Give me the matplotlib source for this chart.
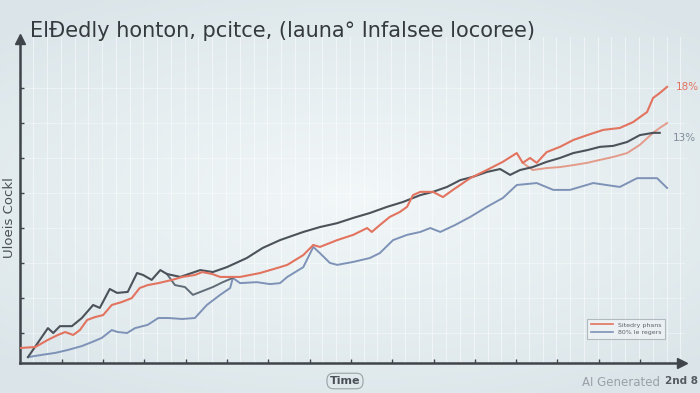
import numpy as np
import matplotlib.pyplot as plt
from matplotlib.lines import Line2D

# data (x: time share of axis, y: value share of axis)
red_x = [0, 2.3, 4.2, 5.7, 6.8, 8.0, 9.0, 10.1, 11.3, 12.5, 13.8, 15.3, 16.8, 18.0, 19.2, 20.8,
         22.9, 24.4, 26.3, 27.4, 28.9, 30.1, 33.1, 36.1, 39.1, 40.2, 42.6, 44.1, 45.1, 47.7, 50.1,
         52.2, 52.9, 54.1, 55.6, 57.1, 58.2, 59.1, 60.2, 62.1, 63.6, 65.1, 67.7, 70.2, 72.6, 74.7,
         75.6, 76.7, 77.7, 79.2, 81.2, 83.2, 85.3, 87.7, 90.2, 92.2, 94.3, 95.2, 96.2, 97.3]
red_y = [4.6, 4.9, 7.1, 8.6, 9.5, 8.6, 10.1, 13.2, 14.1, 14.7, 17.8, 18.7, 19.9, 23.0, 23.9, 24.5,
         25.5, 26.4, 27.0, 27.9, 27.3, 26.4, 26.4, 27.6, 29.4, 30.1, 33.1, 36.2, 35.6, 37.7, 39.3,
         41.4, 40.2, 42.3, 44.8, 46.3, 47.9, 51.5, 52.5, 52.5, 50.9, 53.1, 56.7, 59.2, 61.7, 64.4,
         61.4, 62.9, 61.4, 64.7, 66.3, 68.4, 69.9, 71.5, 72.1, 73.9, 77.0, 81.3, 82.8, 84.7]

salmon_x = [75.6, 77.1, 79.2, 81.2, 83.2, 85.3, 87.2, 89.2, 91.3, 93.2, 95.2, 96.2, 97.3]
salmon_y = [61.4, 59.2, 59.8, 60.1, 60.7, 61.4, 62.3, 63.2, 64.4, 66.9, 70.6, 72.1, 73.6]

dark_x = [1.2, 4.2, 5.0, 6.0, 7.8, 9.3, 11.0, 12.0, 13.5, 14.6, 16.2, 17.6, 18.5, 19.8, 21.1,
          22.1, 24.1, 27.1, 29.0, 31.1, 34.1, 36.5, 39.1, 42.6, 45.1, 47.7, 50.1, 52.6, 55.2,
          57.6, 60.2, 62.1, 64.2, 66.2, 68.1, 70.2, 72.2, 73.7, 75.2, 77.1, 79.2, 81.2, 83.2,
          85.3, 87.2, 89.2, 91.3, 93.2, 95.2, 96.2]
dark_y = [1.8, 10.7, 9.2, 11.3, 11.3, 13.8, 17.8, 16.9, 22.7, 21.5, 21.8, 27.6, 27.0, 25.5, 28.5,
          27.3, 26.4, 28.5, 27.9, 29.4, 32.2, 35.3, 37.7, 40.2, 41.7, 42.9, 44.5, 46.0, 47.9,
          49.4, 51.5, 52.5, 54.0, 56.1, 57.1, 58.6, 59.5, 57.7, 59.2, 60.1, 61.7, 62.9, 64.4,
          65.3, 66.3, 66.6, 67.8, 69.9, 70.6, 70.6]

branch_x = [22.1, 23.3, 24.8, 26.0, 29.0, 30.5, 32.0]
branch_y = [27.3, 23.9, 23.3, 20.9, 23.3, 24.8, 26.1]

blue_x = [1.2, 3.3, 5.3, 7.2, 9.3, 10.8, 12.3, 13.8, 14.7, 16.1, 17.3, 19.2, 20.8, 22.3, 24.4,
          26.3, 28.1, 30.1, 31.6, 32.0, 33.1, 35.6, 37.6, 39.1, 40.2, 42.6, 44.1, 45.1, 46.6,
          47.7, 50.1, 52.6, 54.1, 56.1, 58.2, 60.2, 61.7, 63.2, 65.4, 67.7, 70.2, 72.6, 74.7,
          77.7, 80.2, 82.7, 86.2, 90.2, 92.8, 95.8, 97.3]
blue_y = [1.8, 2.5, 3.1, 4.0, 5.2, 6.4, 7.7, 10.1, 9.5, 9.2, 10.7, 11.7, 13.8, 13.8, 13.5,
          13.8, 17.8, 20.9, 23.0, 26.1, 24.5, 24.8, 24.2, 24.5, 26.4, 29.4, 35.6, 33.7, 30.7,
          30.1, 31.0, 32.2, 33.7, 37.7, 39.3, 40.2, 41.4, 40.2, 42.3, 44.8, 47.9, 50.6, 54.6,
          55.2, 53.1, 53.1, 55.2, 54.0, 56.7, 56.7, 53.7]

title = "ElÐedly honton, pcitce, (launa° Infalsee locoree)"
ylabel = "Uloeis Cockl"
xlabel = "Time"
legend_labels = ["Sitedry phans", "80% le regers"]
end_labels = ["18%", "13%"]

RED = "#e2735f"
SALMON = "#e39b8a"
DARK = "#4b5259"
BLUE = "#7d92b6"
GRAYBLUE = "#7f8c99"

fig = plt.figure(figsize=(7, 3.93), dpi=100)

# soft background gradient
bg = fig.add_axes([0, 0, 1, 1], zorder=-2)
gx, gy = np.meshgrid(np.linspace(-1, 1, 200), np.linspace(-1, 1, 120))
r = np.sqrt((gx * 0.9) ** 2 + (gy * 1.1) ** 2)
c_in = np.array([0.95, 0.97, 0.975])
c_out = np.array([0.86, 0.90, 0.915])
t = np.clip(r / 1.3, 0, 1)[..., None]
bg.imshow(c_in * (1 - t) + c_out * t, aspect="auto", extent=[0, 1, 0, 1])
bg.axis("off")

ax = fig.add_axes([20 / 700, 30 / 393, 665 / 700, 326 / 393])
ax.set_facecolor("none")
ax.set_xlim(0, 100)
ax.set_ylim(0, 100)

# faint vertical stripes + horizontal grid
for xv in np.arange(2.0, 100, 2.07):
    ax.axvline(xv, color="white", lw=0.8, alpha=0.5, zorder=0)
for yv in 9.2 + 10.74 * np.arange(8):
    ax.axhline(yv, color="white", lw=0.7, alpha=0.4, zorder=0)

ax.plot(blue_x, blue_y, color=BLUE, lw=1.4, label=legend_labels[1], zorder=3)
ax.plot(branch_x, branch_y, color="#5f6b76", lw=1.4, zorder=3)
ax.plot(salmon_x, salmon_y, color=SALMON, lw=1.4, zorder=3)
ax.plot(dark_x, dark_y, color=DARK, lw=1.5, zorder=4)
ax.plot(red_x, red_y, color=RED, lw=1.5, label=legend_labels[0], zorder=4)

ax.text(red_x[-1] + 1.3, red_y[-1], end_labels[0], color=RED, fontsize=7.5, va="center")
ax.text(dark_x[-1] + 2.0, dark_y[-1] - 1.5, end_labels[1], color=GRAYBLUE, fontsize=7.5, va="center")

# axes with arrows
for s in ["top", "right"]:
    ax.spines[s].set_visible(False)
for s in ["left", "bottom"]:
    ax.spines[s].set_color("#3f454b")
    ax.spines[s].set_linewidth(1.8)
ax.spines["bottom"].set_bounds(0, 99.5)
ax.plot(99.5, 0, ">", color="#3f454b", ms=7, clip_on=False, zorder=5)
ax.plot(0, 99.5, "^", color="#3f454b", ms=7, clip_on=False, zorder=5)

ax.set_xticks(6.3 + 6.21 * np.arange(15))
ax.set_yticks(9.2 + 10.74 * np.arange(8))
ax.tick_params(direction="in", length=3, width=1, color="#3f454b",
               labelbottom=False, labelleft=False)

leg = ax.legend(handles=[Line2D([], [], color=RED, lw=1.2), Line2D([], [], color=BLUE, lw=1.2)],
                labels=legend_labels, loc="lower right", bbox_to_anchor=(0.975, 0.065),
                fontsize=4.5, frameon=True, fancybox=False, handlelength=3.5,
                borderpad=0.6, labelspacing=0.3)
leg.get_frame().set_edgecolor("#a7aeb3")
leg.get_frame().set_facecolor("#eef3f4")
leg.get_frame().set_linewidth(0.8)
for txt in leg.get_texts():
    txt.set_color("#5a6168")

fig.text(30 / 700, 1 - 31 / 393, title, fontsize=15, color="#353a3f", va="center", ha="left")
fig.text(10 / 700, 1 - 218 / 393, ylabel, fontsize=9.5, color="#4a5056", rotation=90,
         va="center", ha="center")
fig.text(345 / 700, 1 - 381 / 393, xlabel, fontsize=8, color="#4a5056", va="center", ha="center",
         fontweight="bold",
         bbox=dict(boxstyle="round,pad=0.25,rounding_size=0.6", fc="none", ec="#9aa1a6", lw=0.8))
fig.text(660 / 700, 1 - 382 / 393, "AI Generated", fontsize=8.5, color="#9aa1a6",
         va="center", ha="right")
fig.text(698 / 700, 1 - 381 / 393, "2nd 8", fontsize=7.5, color="#555b61", va="center",
         ha="right", fontweight="bold")

fig.savefig("out.png", dpi=100)
